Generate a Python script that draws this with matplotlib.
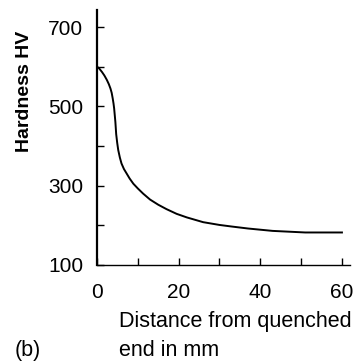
import matplotlib
matplotlib.use("Agg")
import matplotlib.pyplot as plt

# distance from quenched end (mm) and hardness (HV)
distance = [0, 0.5, 1.2, 1.8, 2.4, 2.9, 3.3, 3.6, 3.85, 4.05, 4.2, 4.35,
            4.5, 4.7, 4.95, 5.2, 5.6, 6.0, 6.6, 7.3, 8.0, 8.9, 10.0, 11.3,
            13.0, 15.0, 17.0, 19.5, 22.0, 26.0, 30.0, 33.0, 37.0, 40.0,
            43.0, 47.0, 51.0, 55.0, 60.0]
hardness = [600, 596, 587, 578, 567, 556, 545, 534, 520, 507, 495, 478,
            461, 430, 408, 390, 371, 356, 342, 330, 318, 305, 293, 280,
            265, 252, 241, 229, 220, 208, 201, 197, 192, 189,
            186, 184, 182, 182, 182]

x_ticks = [0, 10, 20, 30, 40, 50, 60]
x_labels = ["0", "", "20", "", "40", "", "60"]
y_ticks = [100, 200, 300, 400, 500, 600, 700]
y_labels = ["100", "", "300", "", "500", "", "700"]

plt.rcParams["font.family"] = ["Liberation Sans", "DejaVu Sans"]

fig = plt.figure(figsize=(3.54, 3.64), dpi=100)
ax = fig.add_axes([0.274, 0.272, 0.715, 0.7005])

ax.plot(distance, hardness, color="black", lw=1.4,
        solid_joinstyle="round")

ax.set_xlim(0, 62)
ax.set_ylim(100, 743)
ax.spines["top"].set_visible(False)
ax.spines["right"].set_visible(False)
ax.spines["left"].set_linewidth(1.6)
ax.spines["bottom"].set_linewidth(1.0)

ax.set_xticks(x_ticks)
ax.set_xticklabels(x_labels)
ax.set_yticks(y_ticks)
ax.set_yticklabels(y_labels)
ax.tick_params(axis="both", direction="in", length=5, width=1.0,
               labelsize=15, colors="black")
ax.tick_params(axis="x", pad=13)
ax.tick_params(axis="y", pad=10)

fig.text(0.07, 0.75, "Hardness HV", rotation=90, ha="center", va="center",
         fontsize=14, fontweight="bold")
fig.text(0.337, 0.118, "Distance from quenched", ha="left", va="center",
         fontsize=15.5)
fig.text(0.337, 0.038, "end in mm", ha="left", va="center", fontsize=15.5)
fig.text(0.04, 0.038, "(b)", ha="left", va="center", fontsize=15.5)

fig.savefig("out.png", dpi=100)
